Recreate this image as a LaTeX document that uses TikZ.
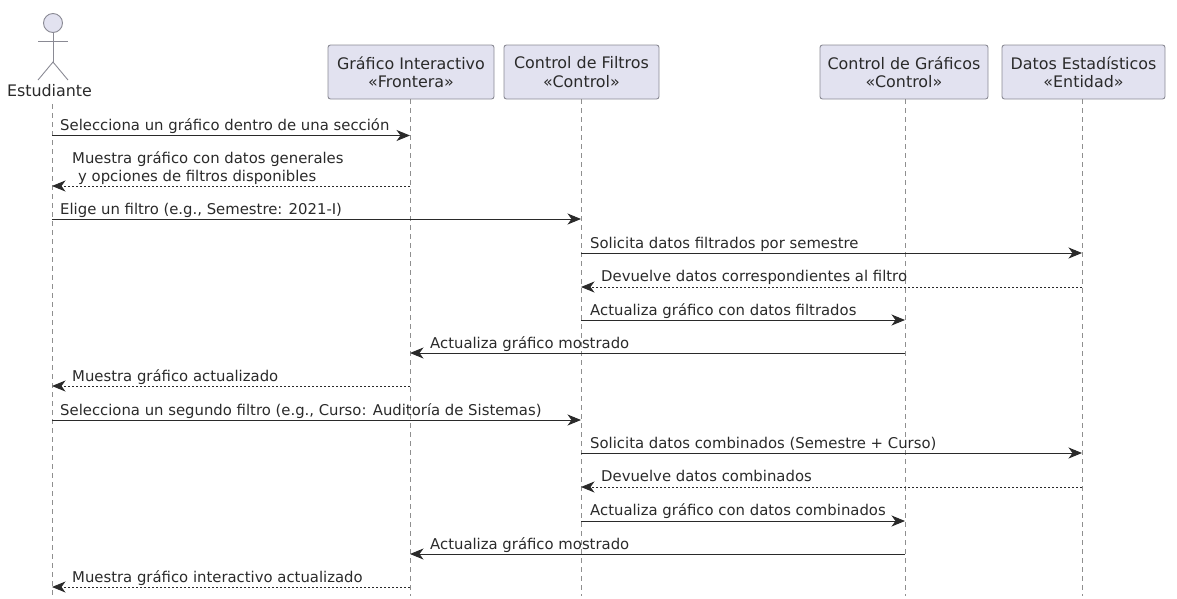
\documentclass[tikz,border=0pt]{standalone}
\usepackage{fontspec}
\setmainfont{DejaVu Sans}
\usetikzlibrary{arrows.meta}
\definecolor{partfill}{HTML}{E2E2F0}
\definecolor{partline}{HTML}{8A8A94}
\definecolor{lifeline}{HTML}{8F8F8F}
\definecolor{msgtext}{HTML}{2A2A2A}
\tikzset{
    part/.style={draw=partline,fill=partfill,rectangle,rounded corners=2.5pt,line width=0.9pt,minimum height=54pt,align=center,inner sep=0pt,font=\fontsize{15.9}{18.5}\selectfont,text=msgtext},
    life/.style={draw=lifeline,line width=0.8pt,dash pattern=on 5pt off 4pt},
    msg/.style={draw=msgtext,line width=0.9pt,-{Stealth[length=13.5pt,width=11pt,inset=4pt]}},
    reply/.style={msg,dash pattern=on 2pt off 2pt},
    txt/.style={anchor=base west,inner sep=0pt,font=\fontsize{14.85}{18}\selectfont,text=msgtext,align=left},
    actor/.style={draw=partline,line width=0.9pt}
}
\begin{document}
\begin{tikzpicture}[x=1pt,y=-1pt]
        \useasboundingbox (0,0) rectangle (1177,598);
        %% Actor
        \node[circle,draw=partline,fill=partfill,line width=0.9pt,minimum size=19pt,inner sep=0pt] (head) at (53,23) {};
        \coordinate (hip) at (53,62);
        \coordinate (armL) at (38,41);
        \coordinate (armR) at (68,41);
        \coordinate (footL) at (38,80);
        \coordinate (footR) at (68,80);
        \draw[actor] (head.south) -- (hip);
        \draw[actor] (armL) -- (armR);
        \draw[actor] (footL) -- (hip) -- (footR);
        \node[anchor=base,inner sep=0pt,font=\fontsize{15.9}{18.5}\selectfont,text=msgtext] (est) at (49.5,96) {Estudiante};
        %% Participants
        \node[part,minimum width=166pt] (graf) at (411,72) {Gráfico Interactivo\\«Frontera»};
        \node[part,minimum width=155pt] (filt) at (581.5,72) {Control de Filtros\\«Control»};
        \node[part,minimum width=168pt] (ctrl) at (904,72) {Control de Gráficos\\«Control»};
        \node[part,minimum width=163pt] (dato) at (1083.5,72) {Datos Estadísticos\\«Entidad»};
        %% Lifelines
        \coordinate (estTop) at (52,104);
        \coordinate (grafTop) at (410,99);
        \coordinate (filtTop) at (581,99);
        \coordinate (ctrlTop) at (905,99);
        \coordinate (datoTop) at (1082,99);
        \foreach \who in {est,graf,filt,ctrl,dato}
            \draw[life] (\who Top) -- (\who Top |- 0,596);
        %% Messages
        \draw[msg] (estTop |- 0,135.5) -- (grafTop |- 0,135.5);
        \node[txt] (m1) at (60,130) {Selecciona un gráfico dentro de una sección};
        \draw[reply] (grafTop |- 0,186) -- (estTop |- 0,186);
        \node[txt] (m2) at (72,163) {Muestra gráfico con datos generales};
        \node[txt] (m2b) at (78,181) {y opciones de filtros disponibles};
        \draw[msg] (estTop |- 0,219) -- (filtTop |- 0,219);
        \node[txt] (m3) at (60,214) {Elige un filtro (e.g., Semestre: 2021-I)};
        \draw[msg] (filtTop |- 0,253) -- (datoTop |- 0,253);
        \node[txt] (m4) at (590,248) {Solicita datos filtrados por semestre};
        \draw[reply] (datoTop |- 0,287) -- (filtTop |- 0,287);
        \node[txt] (m5) at (601,281) {Devuelve datos correspondientes al filtro};
        \draw[msg] (filtTop |- 0,320) -- (ctrlTop |- 0,320);
        \node[txt] (m6) at (590,315) {Actualiza gráfico con datos filtrados};
        \draw[msg] (ctrlTop |- 0,353) -- (grafTop |- 0,353);
        \node[txt] (m7) at (430,348) {Actualiza gráfico mostrado};
        \draw[reply] (grafTop |- 0,386) -- (estTop |- 0,386);
        \node[txt] (m8) at (72,381) {Muestra gráfico actualizado};
        \draw[msg] (estTop |- 0,420) -- (filtTop |- 0,420);
        \node[txt] (m9) at (60,415) {Selecciona un segundo filtro (e.g., Curso: Auditoría de Sistemas)};
        \draw[msg] (filtTop |- 0,453) -- (datoTop |- 0,453);
        \node[txt] (m10) at (590,448) {Solicita datos combinados (Semestre + Curso)};
        \draw[reply] (datoTop |- 0,487) -- (filtTop |- 0,487);
        \node[txt] (m11) at (601,481) {Devuelve datos combinados};
        \draw[msg] (filtTop |- 0,521) -- (ctrlTop |- 0,521);
        \node[txt] (m12) at (590,515) {Actualiza gráfico con datos combinados};
        \draw[msg] (ctrlTop |- 0,554) -- (grafTop |- 0,554);
        \node[txt] (m13) at (430,549) {Actualiza gráfico mostrado};
        \draw[reply] (grafTop |- 0,587) -- (estTop |- 0,587);
        \node[txt] (m14) at (72,582) {Muestra gráfico interactivo actualizado};
    \end{tikzpicture}
\end{document}
